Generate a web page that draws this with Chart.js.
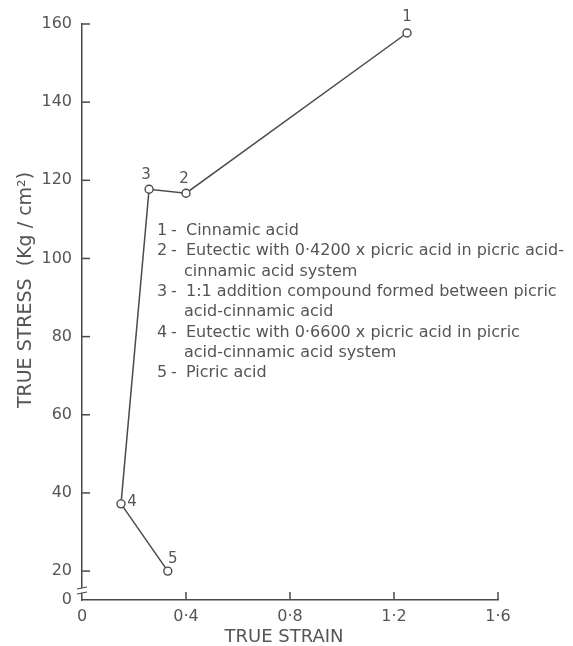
<!DOCTYPE html>
<html lang="en">
<head>
    <meta charset="UTF-8">
    <script src="https://cdn.jsdelivr.net/npm/chart.js"></script>
    <title>True stress vs true strain</title>
    <style>
        html, body { margin: 0; padding: 0; background: #fff; }
        .box { width: 573px; height: 646px; }
    </style>
</head>
<body>
    <div class="box">
        <canvas id="myChart" width="573" height="646"></canvas>
    </div>

<script type="text/javascript">
    // values
    const strain = [1.25, 0.40, 0.258, 0.15, 0.33]
    const stress = [157.7, 116.7, 117.7, 37.2, 20]
    const pointNames = ['1', '2', '3', '4', '5']
    const xTicks = [0, 0.4, 0.8, 1.2, 1.6]
    const xTickText = ['0', '0·4', '0·8', '1·2', '1·6']
    const yTicks = [20, 40, 60, 80, 100, 120, 140, 160]
    const yBreakMin = 12.6   // the axis is broken between 0 and 20
    const noteNums = ['1', '2', '', '3', '', '4', '', '5']
    const noteText = [
        'Cinnamic acid',
        'Eutectic with 0·4200 x picric acid in picric acid-',
        'cinnamic acid system',
        '1:1 addition compound formed between picric',
        'acid-cinnamic acid',
        'Eutectic with 0·6600 x picric acid in picric',
        'acid-cinnamic acid system',
        'Picric acid'
    ]

    const ink = '#4a4a4a'
    const textInk = '#555'
    const font = 'DejaVu Sans'

    const points = strain.map((s, i) => ({ x: s, y: stress[i] }))

    // inside tick marks, break marks, labels, notes, axis titles
    const extras = {
        id: 'extras',
        afterDraw(chart) {
            const ctx = chart.ctx
            const xs = chart.scales.x
            const ys = chart.scales.y
            const x0 = xs.getPixelForValue(0)
            const yb = ys.getPixelForValue(yBreakMin)
            ctx.save()
            ctx.strokeStyle = ink
            ctx.lineWidth = 1.5
            xTicks.forEach(v => {
                if (v === 0) return
                const px = xs.getPixelForValue(v)
                ctx.beginPath(); ctx.moveTo(px, yb); ctx.lineTo(px, yb - 8); ctx.stroke()
            })
            yTicks.forEach(v => {
                const py = ys.getPixelForValue(v)
                ctx.beginPath(); ctx.moveTo(x0, py); ctx.lineTo(x0 + 8, py); ctx.stroke()
            })
            // break marks
            ctx.fillStyle = '#fff'
            ctx.fillRect(x0 - 2, yb - 12, 4, 5)
            ctx.lineWidth = 1.2
            ;[-12, -7].forEach(d => {
                ctx.beginPath(); ctx.moveTo(x0 - 5, yb + d + 1); ctx.lineTo(x0 + 5, yb + d - 1); ctx.stroke()
            })

            // point numbers
            ctx.fillStyle = textInk
            ctx.font = '15px "' + font + '"'
            ctx.textAlign = 'center'
            ctx.textBaseline = 'bottom'
            const offs = [[0, -8], [-2, -7], [-3, -7], [11, 6], [5, -4]]
            points.forEach((p, i) => {
                const px = xs.getPixelForValue(p.x) + offs[i][0]
                const py = ys.getPixelForValue(p.y) + offs[i][1]
                ctx.fillText(pointNames[i], px, py)
            })

            // notes
            ctx.font = '16px "' + font + '"'
            ctx.textAlign = 'left'
            ctx.textBaseline = 'middle'
            noteText.forEach((t, i) => {
                const py = 231 + i * 20.3
                if (noteNums[i]) {
                    ctx.fillText(noteNums[i], 157, py)
                    ctx.fillText('-', 171, py)
                    ctx.fillText(t, 186, py, 572 - 186)
                } else {
                    ctx.fillText(t, 184, py, 572 - 184)
                }
            })

            // axis titles
            ctx.font = '18px "' + font + '"'
            ctx.textAlign = 'center'
            ctx.fillText('TRUE STRAIN', 284, 637)
            ctx.translate(26, 290)
            ctx.rotate(-Math.PI / 2)
            ctx.font = '19px "' + font + '"'
            ctx.fillText('TRUE STRESS  (Kg / cm²)', 0, 0)
            ctx.restore()
        }
    }

    const config = {
        type: 'scatter',
        data: {
            datasets: [{
                data: points,
                showLine: true,
                borderColor: ink,
                borderWidth: 1.5,
                pointRadius: 4,
                pointBackgroundColor: '#fff',
                pointBorderColor: ink,
                pointBorderWidth: 1.4
            }]
        },
        options: {
            responsive: false,
            animation: false,
            layout: { padding: { top: 24, right: 75, left: 0, bottom: 0 } },
            plugins: { legend: { display: false }, tooltip: { enabled: false } },
            scales: {
                x: {
                    type: 'linear',
                    min: 0,
                    max: 1.6,
                    afterBuildTicks: s => { s.ticks = xTicks.map(v => ({ value: v })) },
                    afterFit: s => { s.height = 46 },
                    grid: { drawOnChartArea: false, drawTicks: false },
                    border: { color: ink, width: 1.5 },
                    ticks: {
                        color: textInk,
                        padding: 7,
                        font: { family: font, size: 16 },
                        callback: (v) => xTickText[xTicks.indexOf(v)]
                    }
                },
                y: {
                    type: 'linear',
                    min: yBreakMin,
                    max: 160,
                    afterBuildTicks: s => { s.ticks = [{ value: yBreakMin }].concat(yTicks.map(v => ({ value: v }))) },
                    afterFit: s => { s.width = 82 },
                    grid: { drawOnChartArea: false, drawTicks: false },
                    border: { color: ink, width: 1.5 },
                    ticks: {
                        color: textInk,
                        padding: 10,
                        font: { family: font, size: 16 },
                        callback: (v) => v === yBreakMin ? '0' : String(v)
                    }
                }
            }
        },
        plugins: [extras]
    }

    const myChart = new Chart(document.getElementById('myChart'), config)
</script>
</body>
</html>
